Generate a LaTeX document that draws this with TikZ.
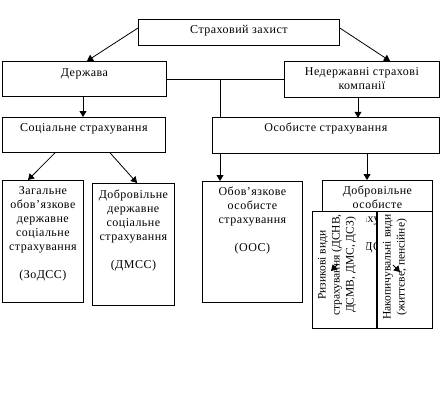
\documentclass[tikz,border=0pt]{standalone}
\usepackage{fontspec}
\setmainfont[LetterSpace=4]{Liberation Serif}
\newfontfamily\plainserif{Liberation Serif}
\usetikzlibrary{arrows.meta,calc}
\begin{document}
\begin{tikzpicture}[x=1pt,y=-1pt,
  box/.style={draw,line width=0.8pt,fill=white,rectangle,inner sep=0pt,anchor=north west},
  obox/.style={draw,line width=0.8pt,rectangle,inner sep=0pt,anchor=north west},
  txt/.style={align=center,inner sep=0pt,font=\fontsize{12}{14}\selectfont,anchor=north},
  rtxt/.style={align=center,inner sep=0pt,font=\plainserif\fontsize{11.5}{14}\selectfont,rotate=90,anchor=center},
  arr/.style={line width=0.8pt,-{Triangle[width=7pt,length=6pt]}},
  ln/.style={line width=0.8pt}]
\useasboundingbox (0,0) rectangle (441,413);
% first level
\node[box,minimum width=201pt,minimum height=26pt] (top) at (138,19) {};
\node[txt] (topt) at ($(top.north)+(0,6)$) {Страховий захист};
\node[box,minimum width=164pt,minimum height=35pt] (derzh) at (2,61) {};
\node[txt] (derzht) at ($(derzh.north)+(0,7)$) {Держава};
\node[box,minimum width=155pt,minimum height=36pt] (nederzh) at (284,61) {};
\node[txt] (nederzht) at ($(nederzh.north)+(0,6)$) {Недержавні страхові\\компанії};
\node[box,minimum width=163pt,minimum height=35pt] (soc) at (2,117) {};
\node[txt] (soct) at ($(soc.north)+(0,6)$) {Соціальне страхування};
\node[box,minimum width=227pt,minimum height=36pt] (osob) at (212,117) {};
\node[txt] (osobt) at ($(osob.north)+(0,6)$) {Особисте страхування};
% lower level
\node[box,minimum width=81pt,minimum height=122pt] (zod) at (2,180) {};
\node[txt] (zodt) at ($(zod.north)+(0,6)$) {Загальне\\обов’язкове\\державне\\соціальне\\страхування\\[14pt](ЗоДСС)};
\node[box,minimum width=82pt,minimum height=122pt] (dmss) at (92,183) {};
\node[txt] (dmsst) at ($(dmss.north)+(0,7)$) {Добровільне\\державне\\соціальне\\страхування\\[14pt](ДМСС)};
\node[box,minimum width=100pt,minimum height=121pt] (oos) at (202,181) {};
\node[txt] (oost) at ($(oos.north)+(0,6)$) {Обов’язкове\\особисте\\страхування\\[14pt](ООС)};
\node[box,minimum width=110pt,minimum height=82pt] (dos) at (322,180) {};
\node[txt] (dost) at ($(dos.north)+(0,6)$) {Добровільне\\особисте\\страхування\\[14pt](ДОС)};
% overlapping vertical boxes
\fill[white] (312,211) rectangle (366,328);
\fill[white] (366,262) rectangle (376,328);
\node[obox,minimum width=64pt,minimum height=117pt] (ryz) at (312,211) {};
\node[rtxt] (ryzt) at (337,265) {Ризикові види\\страхування (ДСНВ,\\ДСМВ, ДМС, ДСЗ)};
\node[box,minimum width=55pt,minimum height=117pt] (nak) at (377,211) {};
\node[rtxt] (nakt) at (395,267) {Накопичувальні види\\(життєве, пенсійне)};
% connectors
\draw[arr] ($(top.north west)+(0,9)$) -- ($(derzh.north west)+(85,0)$);
\draw[arr] ($(top.north east)+(0,9)$) -- ($(nederzh.north west)+(106,0)$);
\coordinate (j) at ($(derzh.north east)+(54,18)$);
\draw[ln] ($(derzh.north east)+(0,18)$) -- ($(nederzh.north west)+(0,18)$);
\draw[ln] (j) -- (j |- osob.north);
\draw[arr] ($(derzh.south west)+(81,0)$) -- ($(soc.north west)+(81,0)$);
\draw[arr] ($(nederzh.south west)+(74,0)$) -- ($(nederzh.south west)+(74,20)$);
\draw[arr] ($(soc.south west)+(53,0)$) -- ($(zod.north west)+(26,0)$);
\draw[arr] ($(soc.south west)+(108,0)$) -- ($(dmss.north west)+(45,0)$);
\draw[arr] ($(osob.south west)+(8,0)$) -- ($(oos.north west)+(18,0)$);
\draw[arr] ($(osob.south west)+(155,0)$) -- ($(dos.north west)+(45,0)$);
\coordinate (a1s) at (338,264);
\coordinate (a1e) at (331,271);
\coordinate (a2s) at (393,265);
\coordinate (a2e) at (400,272);
\draw[arr] (a1s) -- (a1e);
\draw[arr] (a2s) -- (a2e);
\end{tikzpicture}
\end{document}
